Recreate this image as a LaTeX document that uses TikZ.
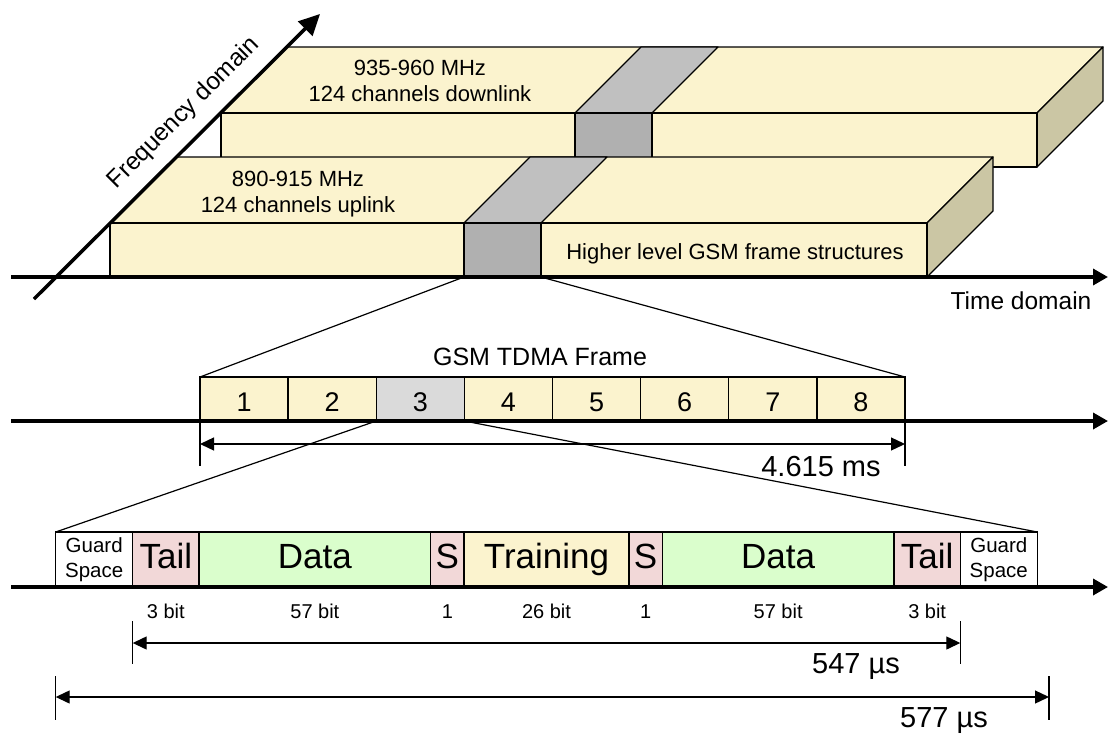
\documentclass[tikz,border=0pt]{standalone}
\usepackage{fontspec}
\setmainfont{Liberation Sans}
\usetikzlibrary{arrows.meta,calc}
\definecolor{slabfill}{HTML}{FBF3CE}
\definecolor{slabside}{HTML}{CBC6A4}
\definecolor{bandtop}{HTML}{C0C0C0}
\definecolor{bandfront}{HTML}{B0B0B0}
\definecolor{slotgray}{HTML}{DADADA}
\definecolor{tailpink}{HTML}{F2D8D8}
\definecolor{datagreen}{HTML}{DAFECC}
\begin{document}
\begin{tikzpicture}[x=1pt,y=-1pt,
  face/.style={draw=black,line width=1.2pt,line join=round},
  taxis/.style={line width=3.5pt,-{Triangle[length=15pt,width=16pt]}},
  faxis/.style={line width=3.5pt,-{Triangle[length=21pt,width=20pt]}},
  zoomline/.style={line width=1.2pt},
  dimline/.style={line width=1.3pt,{Triangle[length=14pt,width=13pt]}-{Triangle[length=14pt,width=13pt]}},
  tickline/.style={line width=1.3pt},
  slabtext/.style={font=\fontsize{22}{26}\selectfont,anchor=base,inner sep=0pt},
  slot/.style={draw,line width=1.3pt,fill=slabfill,minimum width=88.125pt,minimum height=44pt,
    inner sep=0pt,outer sep=0pt,anchor=south west,font=\fontsize{27}{32}\selectfont,
    text height=25pt,text depth=0pt},
  field/.style={draw,line width=1.3pt,minimum height=55pt,inner sep=0pt,outer sep=0pt,
    anchor=south west,font=\fontsize{35}{40}\selectfont,text height=25pt,text depth=7pt},
  guardbox/.style={draw,line width=1.3pt,fill=white,minimum width=77pt,minimum height=55pt,
    inner sep=0pt,outer sep=0pt,anchor=south west,align=center,
    font=\fontsize{20.5}{24.5}\selectfont},
  bitlabel/.style={font=\fontsize{20}{24}\selectfont,anchor=base,inner sep=0pt},
  dimlabel/.style={font=\fontsize{29}{34}\selectfont,inner sep=0pt},
]
\useasboundingbox (0,0) rectangle (1109,736);

% ---------- downlink band (rear slab) ----------
\fill[slabfill] (221,113) rectangle (1037,167);
\draw[face,fill=slabfill] (221,113) -- (287,47) -- (1103,47) -- (1037,113) -- cycle;
\draw[face,fill=slabside] (1037,113) -- (1103,47) -- (1103,101) -- (1037,167) -- cycle;
\draw[face] (221,113) rectangle (1037,167);
\draw[face,fill=bandtop] (575,113) -- (641,47) -- (718,47) -- (652,113) -- cycle;
\draw[face,fill=bandfront] (575,113) rectangle (652,167);

% ---------- uplink band (front slab) ----------
\draw[face,fill=slabfill] (110,223) -- (176,157) -- (993,157) -- (927,223) -- cycle;
\draw[face,fill=slabside] (927,223) -- (993,157) -- (993,211) -- (927,277) -- cycle;
\draw[face,fill=slabfill] (110,223) rectangle (927,277);
\draw[face,fill=bandtop] (464,223) -- (530,157) -- (607,157) -- (541,223) -- cycle;
\draw[face,fill=bandfront] (464,223) rectangle (541,277);
\coordinate (ubl) at (464,277);
\coordinate (ubr) at (541,277);

\node[slabtext] (dl1) at (420,75) {935-960 MHz};
\node[slabtext] (dl2) at (420,101) {124 channels downlink};
\node[slabtext] (ul1) at (298,186) {890-915 MHz};
\node[slabtext] (ul2) at (298,212) {124 channels uplink};
\node[slabtext] (hl) at (735,259) {Higher level GSM frame structures};

% ---------- axes of the top view ----------
\coordinate (ta0) at (11,277);
\coordinate (ta1) at (1108,277);
\draw[taxis] (ta0) -- (ta1);
\node[font=\fontsize{24.5}{29}\selectfont,anchor=base,inner sep=0pt] (tdom) at (1021,309) {Time domain};
\coordinate (fa0) at (34,299);
\coordinate (fa1) at (320,14);
\draw[faxis] (fa0) -- (fa1);
\node[font=\fontsize{24.5}{29}\selectfont,rotate=45,inner sep=0pt] (fdom) at (184,113) {Frequency domain};

% ---------- TDMA frame ----------
\node[font=\fontsize{25}{30}\selectfont,anchor=base,inner sep=0pt] (tdma) at (540,365) {GSM TDMA Frame};
\node[slot] (s1) at (200,421) {1};
\node[slot] (s2) at (s1.south east) {2};
\node[slot,fill=slotgray] (s3) at (s2.south east) {3};
\node[slot] (s4) at (s3.south east) {4};
\node[slot] (s5) at (s4.south east) {5};
\node[slot] (s6) at (s5.south east) {6};
\node[slot] (s7) at (s6.south east) {7};
\node[slot] (s8) at (s7.south east) {8};
\coordinate (ma0) at (11,421);
\coordinate (ma1) at (1108,421);
\draw[taxis] (ma0) -- (ma1);

\draw[zoomline] (ubl) -- (s1.north west);
\draw[zoomline] (ubr) -- (s8.north east);

\coordinate (fl) at ($(s1.south west)+(0,45)$);
\coordinate (fr) at ($(s8.south east)+(0,45)$);
\draw[tickline] (s1.south west) -- (fl);
\draw[tickline] (s8.south east) -- (fr);
\coordinate (fdl) at ($(s1.south west)+(0,23)$);
\coordinate (fdr) at ($(s8.south east)+(0,23)$);
\draw[dimline] (fdl) -- (fdr);
\node[dimlabel] (fdur) at (821,467) {4.615 ms};

% ---------- normal burst ----------
\node[guardbox] (g1) at (55.7,587) {Guard\\Space};
\node[field,fill=tailpink,minimum width=66.3pt] (t1) at (g1.south east) {Tail};
\node[field,fill=datagreen,minimum width=231.7pt] (d1) at (t1.south east) {Data};
\node[field,fill=tailpink,minimum width=33.3pt] (sa) at (d1.south east) {S};
\node[field,fill=slabfill,minimum width=165pt] (tr) at (sa.south east) {Training};
\node[field,fill=tailpink,minimum width=33.3pt] (sb) at (tr.south east) {S};
\node[field,fill=datagreen,minimum width=231.7pt] (d2) at (sb.south east) {Data};
\node[field,fill=tailpink,minimum width=66.3pt] (t2) at (d2.south east) {Tail};
\node[guardbox] (g2) at (t2.south east) {Guard\\Space};
\coordinate (ba0) at (11,587);
\coordinate (ba1) at (1108,587);
\draw[taxis] (ba0) -- (ba1);

\draw[zoomline] (s3.south west) -- (g1.north west);
\draw[zoomline] (s3.south east) -- (g2.north east);

\coordinate (lrow) at (0,618);
\node[bitlabel] (b1) at (t1.center |- lrow) {3 bit};
\node[bitlabel] (b2) at (d1.center |- lrow) {57 bit};
\node[bitlabel] (b3) at (sa.center |- lrow) {1};
\node[bitlabel] (b4) at (tr.center |- lrow) {26 bit};
\node[bitlabel] (b5) at (sb.center |- lrow) {1};
\node[bitlabel] (b6) at (d2.center |- lrow) {57 bit};
\node[bitlabel] (b7) at (t2.center |- lrow) {3 bit};

% 547 us: tail to tail
\coordinate (ia0) at (t1.south west |- 0,621);
\coordinate (ia1) at (t1.south west |- 0,664);
\coordinate (ib0) at (t2.south east |- 0,621);
\coordinate (ib1) at (t2.south east |- 0,664);
\draw[tickline] (ia0) -- (ia1);
\draw[tickline] (ib0) -- (ib1);
\coordinate (iml) at (t1.south west |- 0,643);
\coordinate (imr) at (t2.south east |- 0,643);
\draw[dimline] (iml) -- (imr);
\node[dimlabel] (idur) at (856,667) {547 µs};

% 577 us: whole slot
\coordinate (oa0) at (g1.south west |- 0,676);
\coordinate (oa1) at (g1.south west |- 0,720);
\coordinate (ob0) at (1049,676);
\coordinate (ob1) at (1049,720);
\draw[tickline] (oa0) -- (oa1);
\draw[tickline] (ob0) -- (ob1);
\coordinate (oml) at (g1.south west |- 0,697);
\coordinate (omr) at (1049,697);
\draw[dimline] (oml) -- (omr);
\node[dimlabel] (odur) at (944,721) {577 µs};
\end{tikzpicture}
\end{document}
